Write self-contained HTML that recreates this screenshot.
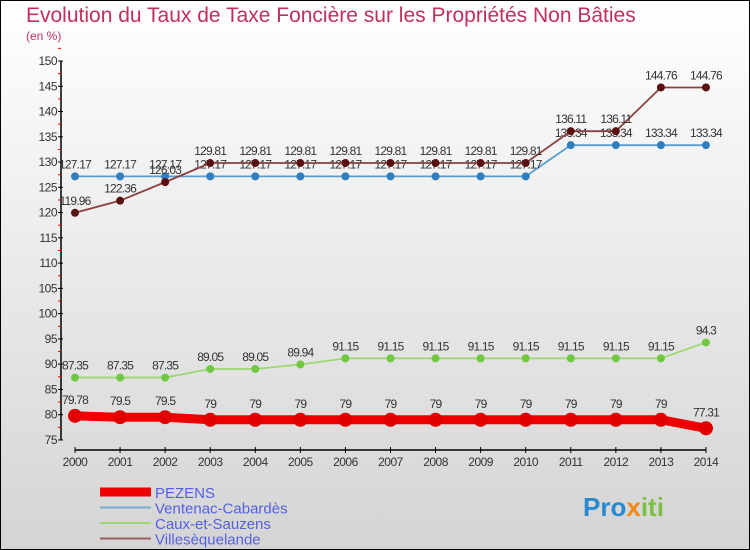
<!DOCTYPE html>
<html><head><meta charset="utf-8"><style>
body{margin:0;width:750px;height:550px;overflow:hidden;font-family:"Liberation Sans",sans-serif}
svg{display:block}
</style></head><body>
<svg width="750" height="550" xmlns="http://www.w3.org/2000/svg">
<defs><linearGradient id="bg" x1="0" y1="0" x2="0" y2="1"><stop offset="0" stop-color="#ffffff"/><stop offset="1" stop-color="#d4d4d4"/></linearGradient></defs>
<rect x="0.5" y="0.5" width="749" height="549" fill="url(#bg)" stroke="#000"/>
<text x="26" y="22" font-size="21" fill="#c0305a">Evolution du Taux de Taxe Foncière sur les Propriétés Non Bâties</text>
<text x="26" y="40" font-size="12" fill="#c0305a">(en %)</text>
<g id="axes"></g><g id="series"></g><g id="legend"></g>
<text x="583" y="516" font-size="26" font-weight="bold" fill="#2a8ad0">Pro<tspan fill="#f08a10">x</tspan><tspan fill="#7cc040">iti</tspan></text>
</svg>
<script>
const years=[2000,2001,2002,2003,2004,2005,2006,2007,2008,2009,2010,2011,2012,2013,2014];
const pezens=[79.78,79.5,79.5,79,79,79,79,79,79,79,79,79,79,79,77.31];
const ventenac=[127.17,127.17,127.17,127.17,127.17,127.17,127.17,127.17,127.17,127.17,127.17,133.34,133.34,133.34,133.34];
const caux=[87.35,87.35,87.35,89.05,89.05,89.94,91.15,91.15,91.15,91.15,91.15,91.15,91.15,91.15,94.3];
const villes=[119.96,122.36,126.03,129.81,129.81,129.81,129.81,129.81,129.81,129.81,129.81,136.11,136.11,144.76,144.76];
const yTicks=[75,80,85,90,95,100,105,110,115,120,125,130,135,140,145,150];
const names=["PEZENS","Ventenac-Cabardès","Caux-et-Sauzens","Villesèquelande"];
const NS="http://www.w3.org/2000/svg";
const X=i=>75+i*45.07, Y=v=>61+(150-v)*5.053;
function mk(p,t,a){const e=document.createElementNS(NS,t);for(const k in a)e.setAttribute(k,a[k]);p.appendChild(e);return e;}
const ax=document.getElementById('axes'),sr=document.getElementById('series'),lg=document.getElementById('legend');
let l=mk(ax,'line',{x1:61,y1:61,x2:61,y2:440,stroke:'#000','stroke-width':1.5});


l=mk(ax,'line',{x1:75,y1:450,x2:706,y2:450,stroke:'#000','stroke-width':1.5});


yTicks.forEach(v=>{
 mk(ax,'line',{x1:58,y1:Y(v),x2:63,y2:Y(v),stroke:'#000'});
 mk(ax,'line',{x1:58,y1:Y(v+2.5),x2:61,y2:Y(v+2.5),stroke:'#e00'});
 const t=mk(ax,'text',{x:57,y:Y(v)+4,'font-size':12,'text-anchor':'end',fill:'#333','letter-spacing':'-0.5'});t.textContent=v;
 
 
});
years.forEach((y,i)=>{
 mk(ax,'line',{x1:X(i),y1:447,x2:X(i),y2:453,stroke:'#000'});
 const t=mk(ax,'text',{x:X(i),y:466,'font-size':12,'text-anchor':'middle',fill:'#333','letter-spacing':'-0.5'});t.textContent=y;
 
 
});
const series=[[ventenac,'#5a9ed0','#2f7fc0',1.8,4],[caux,'#9ad870','#70c840',1.8,4],[villes,'#8a4040','#5a1010',1.8,4],[pezens,'#ee0000','#e00000',9,7]];
const snames=['ventenac','caux','villesequelande','pezens'];
series.forEach(([d,c,dc,w,r],si)=>{
 const g=mk(sr,'g',{});
 
 
 const p=mk(g,'polyline',{points:d.map((v,i)=>X(i)+','+Y(v)).join(' '),fill:'none',stroke:c,'stroke-width':w});
 
 
 d.forEach((v,i)=>{
  const pt=mk(g,'circle',{cx:X(i),cy:Y(v),r:r,fill:dc});
  
  
  const t=mk(g,'text',{x:X(i),y:Y(v)-(si==3?12:8),'font-size':12,'text-anchor':'middle',fill:'#333','letter-spacing':'-0.8'});
  t.textContent=String(v);
  
  
 });
});
const lc=[['#ee0000',9],['#7aaed0',2],['#9ad870',2],['#9a6060',2]];
names.forEach((n,i)=>{
 const y=492+i*15.5;
 const ln=mk(lg,'line',{x1:100,y1:y,x2:151,y2:y,stroke:lc[i][0],'stroke-width':lc[i][1]});
 
 
 const t=mk(lg,'text',{x:155,y:y+6,'font-size':15,fill:'#5560e0'});t.textContent=n;
 
 
});
</script>
</body></html>
